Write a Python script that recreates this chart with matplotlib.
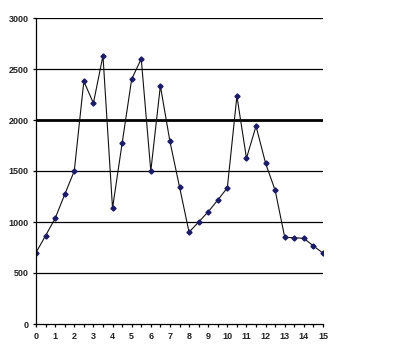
import matplotlib
matplotlib.use("Agg")
import matplotlib.pyplot as plt
from matplotlib.ticker import MultipleLocator

x_values = [0, 0.5, 1, 1.5, 2, 2.5, 3, 3.5, 4, 4.5, 5, 5.5, 6, 6.5, 7, 7.5,
            8, 8.5, 9, 9.5, 10, 10.5, 11, 11.5, 12, 12.5, 13, 13.5, 14, 14.5, 15]
y_values = [700, 866, 1035, 1270, 1500, 2380, 2165, 2630, 1135, 1770, 2400, 2600,
            1500, 2335, 1790, 1345, 900, 1000, 1100, 1215, 1335, 2235, 1625, 1940,
            1575, 1310, 850, 845, 840, 765, 695]
y_ticks = [0, 500, 1000, 1500, 2000, 2500, 3000]
x_ticks = list(range(0, 16))

plt.rcParams['font.family'] = ['Liberation Sans', 'DejaVu Sans']

fig = plt.figure(figsize=(4.0, 3.55), dpi=100, facecolor='white')
ax = fig.add_axes([36/400, 1 - 324/355, (323 - 36)/400, (324 - 18)/355])
ax.set_facecolor('white')

for t in y_ticks[1:]:
    ax.axhline(t, color='black', linewidth=2.0 if t == 2000 else 0.9, zorder=1)

ax.plot(x_values, y_values, color='#111111', linewidth=0.8, zorder=2,
        marker='D', markersize=2.6, markerfacecolor='#1c1c66', markeredgecolor='#1c1c66')

ax.set_xlim(0, 15)
ax.set_ylim(0, 3000)
ax.set_xticks(x_ticks)
ax.set_yticks(y_ticks)
ax.xaxis.set_minor_locator(MultipleLocator(0.5))
ax.tick_params(axis='both', labelsize=6.5, width=0.9, length=2.5, color='black', pad=3)
ax.tick_params(axis='x', which='minor', length=2.5, width=0.9)
for lab in ax.get_xticklabels() + ax.get_yticklabels():
    lab.set_fontweight('bold')
    lab.set_color('#222222')

ax.spines['top'].set_visible(False)
ax.spines['right'].set_visible(False)
ax.spines['left'].set_linewidth(0.9)
ax.spines['bottom'].set_linewidth(0.9)

fig.savefig('out.png', dpi=100, facecolor='white')
